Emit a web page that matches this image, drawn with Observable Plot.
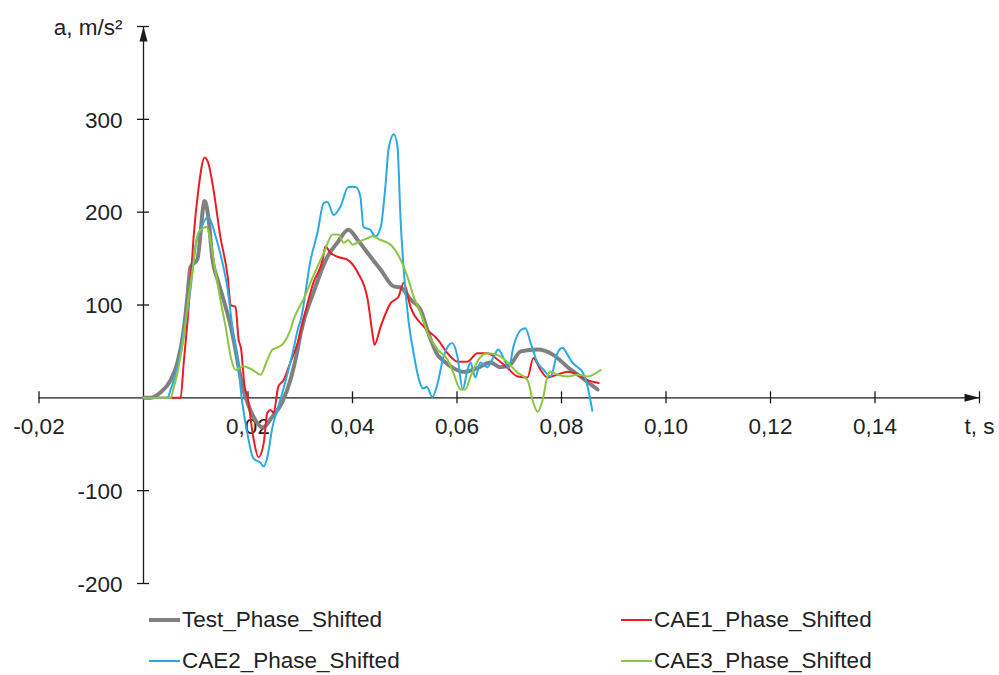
<!DOCTYPE html>
<html>
<head>
<meta charset="utf-8">
<script src="https://cdn.jsdelivr.net/npm/d3@7"></script>
<script src="https://cdn.jsdelivr.net/npm/@observablehq/plot@0.6"></script>
<style>
  html, body { margin: 0; padding: 0; background: #fff; }
  #wrap { position: relative; width: 999px; height: 675px; font-family: "Liberation Sans", Arial, sans-serif; color: #222; }
  #legend { position: absolute; left: 0; top: 600px; width: 999px; height: 75px; }
  .item { position: absolute; display: flex; align-items: center; font-size: 22.5px; height: 30px; }
  .sw { display: inline-block; width: 31px; margin-right: 2px; }
</style>
</head>
<body>
<div id="wrap"><div id="chart"></div><div id="legend"></div></div>
<script>
// ---- data (t in s, a in m/s²) ----
const seriesNames = ["Test_Phase_Shifted", "CAE1_Phase_Shifted", "CAE2_Phase_Shifted", "CAE3_Phase_Shifted"];
const seriesColors = ["#808080", "#ed1c24", "#29abe2", "#8cc63f"];

const testPhase = [
  [0,0],[0.0013,0],[0.0033,6],[0.0052,19],[0.0065,38],[0.0077,73],[0.0084,109],[0.009,141],[0.0103,149],
  [0.0117,212],[0.0124,195],[0.0132,149],[0.0142,127],[0.0153,106],[0.0167,77],[0.0176,52],[0.0182,33],
  [0.0191,9],[0.0199,-5],[0.0214,-24],[0.0228,-32],[0.0247,-20],[0.0266,-4],[0.0281,19],[0.0295,52],
  [0.0301,70],[0.0325,113],[0.0352,152],[0.0371,167],[0.0392,181],[0.041,170],[0.0429,156],[0.0454,138],
  [0.0479,120],[0.0492,119],[0.0511,106],[0.053,95],[0.0545,70],[0.0563,46],[0.0574,40],[0.0593,32],
  [0.0612,28],[0.0639,32],[0.0664,38],[0.0683,33],[0.0702,36],[0.0722,50],[0.0754,52],[0.0785,46],
  [0.0812,33],[0.0836,23],[0.0869,9]
];
const cae1Phase = [
  [0,0],[0.0071,0],[0.0077,38],[0.0084,81],[0.009,124],[0.0096,174],[0.0105,224],[0.0117,259],[0.0124,253],
  [0.0134,224],[0.0147,174],[0.0161,131],[0.0167,100],[0.0176,98],[0.0182,63],[0.0187,52],[0.0193,14],
  [0.0199,1],[0.021,-42],[0.022,-64],[0.023,-49],[0.0237,-16],[0.0243,-13],[0.0249,-16],[0.0258,12],
  [0.0268,19],[0.0281,38],[0.0295,59],[0.0306,84],[0.0325,124],[0.0343,149],[0.0348,163],[0.0358,156],
  [0.0371,152],[0.039,149],[0.041,135],[0.0429,106],[0.0438,70],[0.0442,57],[0.0454,77],[0.0473,102],
  [0.0488,109],[0.0498,124],[0.0511,98],[0.0536,77],[0.0563,63],[0.0582,48],[0.0601,39],[0.062,39],
  [0.0639,48],[0.0658,48],[0.0678,41],[0.0697,32],[0.0716,23],[0.0735,22],[0.0746,43],[0.076,30],
  [0.0773,22],[0.0792,25],[0.0812,28],[0.0831,25],[0.085,19],[0.0871,16]
];
const cae2Phase = [
  [0,0],[0.0046,0],[0.0052,9],[0.0065,33],[0.0077,70],[0.009,117],[0.0099,163],[0.0109,181],[0.0124,195],
  [0.0138,174],[0.0151,146],[0.0161,117],[0.017,77],[0.018,41],[0.0189,-5],[0.0201,-45],[0.021,-65],
  [0.0224,-70],[0.023,-74],[0.0237,-64],[0.0247,-31],[0.0258,-10],[0.0276,27],[0.0287,52],[0.0295,73],
  [0.0301,84],[0.032,149],[0.0333,178],[0.0345,210],[0.0352,211],[0.0364,197],[0.0377,206],[0.0392,227],
  [0.0406,227],[0.0415,217],[0.0421,184],[0.0434,181],[0.0444,174],[0.0454,184],[0.0463,228],[0.0469,268],
  [0.0479,284],[0.0486,271],[0.0492,192],[0.0498,138],[0.0507,84],[0.0517,48],[0.0527,20],[0.0535,10],
  [0.0542,12],[0.0553,1],[0.0563,16],[0.0574,44],[0.0591,59],[0.0601,44],[0.0611,9],[0.062,30],[0.0626,38],
  [0.0635,22],[0.0645,38],[0.0658,33],[0.067,44],[0.0679,52],[0.0689,43],[0.0699,32],[0.0708,55],
  [0.0722,73],[0.0731,75],[0.0741,59],[0.0754,38],[0.0766,30],[0.0779,23],[0.0792,48],[0.0802,54],
  [0.0812,46],[0.0821,38],[0.0831,33],[0.084,28],[0.085,12],[0.0859,-14]
];
const cae3Phase = [
  [0,0],[0.0052,0],[0.0057,9],[0.0067,33],[0.0077,66],[0.0086,106],[0.0096,146],[0.0105,178],[0.0121,184],
  [0.0128,170],[0.0138,135],[0.0147,106],[0.0157,77],[0.0167,44],[0.0176,30],[0.0191,34],[0.0209,30],
  [0.0224,25],[0.0237,41],[0.0247,52],[0.0256,54],[0.0268,59],[0.0281,73],[0.0287,84],[0.0306,106],
  [0.0325,131],[0.0345,156],[0.0362,176],[0.0373,176],[0.0383,167],[0.0392,170],[0.04,165],[0.0412,168],
  [0.0429,172],[0.0438,174],[0.0454,170],[0.0473,165],[0.0492,149],[0.0505,131],[0.0517,109],[0.053,92],
  [0.0544,70],[0.0563,52],[0.0582,41],[0.0593,27],[0.0607,9],[0.0616,9],[0.0626,23],[0.0641,41],
  [0.0658,48],[0.0678,46],[0.0697,38],[0.0716,27],[0.0735,19],[0.0746,-5],[0.0754,-15],[0.0764,-2],
  [0.0773,23],[0.0779,28],[0.0792,25],[0.0812,23],[0.0831,25],[0.085,23],[0.0861,25],[0.0875,30]
];

const xTickValues = [-0.02, 0.02, 0.04, 0.06, 0.08, 0.10, 0.12, 0.14, 0.16];
const xTickLabels = ["-0,02", "0,02", "0,04", "0,06", "0,08", "0,10", "0,12", "0,14", "t, s"];
const yTickValues = [-200, -100, 100, 200, 300, 400];
const yTickLabels = ["-200", "-100", "100", "200", "300", "a, m/s²"];

// ---- build ----
const allSeries = [testPhase, cae1Phase, cae2Phase, cae3Phase];
const rows = allSeries.flatMap((s, k) => s.map(([t, a]) => ({t, a, series: seriesNames[k]})));
const widths = [4, 2, 2, 2];

const upArrow = {draw(ctx) { ctx.moveTo(0, 0); ctx.lineTo(-4, 15); ctx.lineTo(4, 15); ctx.closePath(); }};
const axisColor = "#1a1a1a";

const chart = Plot.plot({
  width: 999, height: 600,
  marginLeft: 38.5, marginRight: 20, marginTop: 26, marginBottom: 17,
  x: {domain: [-0.02, 0.16], axis: null},
  y: {domain: [-200, 400], axis: null},
  style: {fontFamily: "'Liberation Sans', Arial, sans-serif", background: "white", overflow: "visible"},
  marks: [
    Plot.ruleY([0], {x1: -0.02, x2: 0.16, stroke: axisColor, strokeWidth: 1.3}),
    Plot.ruleX([0], {y1: -200, y2: 400, stroke: axisColor, strokeWidth: 1.3}),
    Plot.ruleX(xTickValues, {x: d => d, y1: 0, y2: 0, insetTop: 6, insetBottom: 6, stroke: axisColor, strokeWidth: 1.3}),
    Plot.ruleY(yTickValues, {y: d => d, x1: 0, x2: 0, insetLeft: 6, insetRight: 6, stroke: axisColor, strokeWidth: 1.3}),
    Plot.dot([0], {x: 0, y: 400, symbol: upArrow, r: 4, fill: axisColor, stroke: null}),
    Plot.dot([0], {x: 0.16, y: 0, symbol: upArrow, r: 4, rotate: 90, fill: axisColor, stroke: null}),
    Plot.text(xTickValues, {x: d => d, y: 0, dy: 29, text: (d, i) => xTickLabels[i], fontSize: 22.5, fill: "#222", lineAnchor: "middle"}),
    Plot.text(yTickValues, {x: 0, y: d => d, dx: -21, dy: 1, text: (d, i) => yTickLabels[i], textAnchor: "end", fontSize: 22.5, fill: "#222", lineAnchor: "middle"}),
    ...seriesNames.map((name, k) => Plot.line(rows.filter(r => r.series === name), {
      x: "t", y: "a", stroke: seriesColors[k], strokeWidth: widths[k], curve: "monotone-x", strokeLinejoin: "round"
    }))
  ]
});
document.getElementById("chart").appendChild(chart);

// ---- legend ----
const legend = document.getElementById("legend");
const pos = [[149, 5], [621, 5], [149, 46], [621, 46]];
seriesNames.forEach((name, k) => {
  const el = document.createElement("div");
  el.className = "item";
  el.style.left = pos[k][0] + "px";
  el.style.top = pos[k][1] + "px";
  const sw = document.createElement("span");
  sw.className = "sw";
  sw.style.height = widths[k] + "px";
  sw.style.background = seriesColors[k];
  el.appendChild(sw);
  el.appendChild(document.createTextNode(name));
  legend.appendChild(el);
});
</script>
</body>
</html>
